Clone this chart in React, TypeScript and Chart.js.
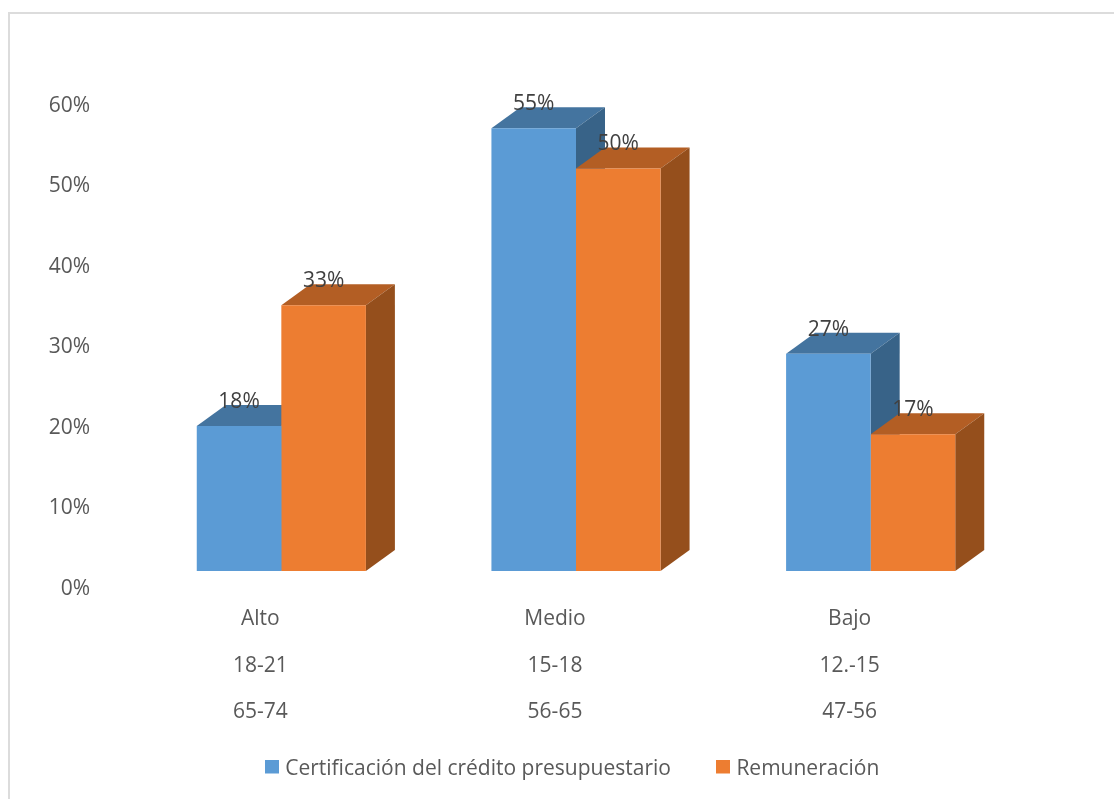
import React, { useEffect, useRef } from "react";
import { Chart, registerables } from "chart.js";

Chart.register(...registerables);

const categories = [
  ["Alto", "18-21", "65-74"],
  ["Medio", "15-18", "56-65"],
  ["Bajo", "12.-15", "47-56"],
];
const seriesNames = ["Certificación del crédito presupuestario", "Remuneración"];
const certificacion = [18, 55, 27];
const remuneracion = [33, 50, 17];

const FONT = "'Open Sans', sans-serif";
const FACE = ["#5B9BD5", "#ED7D31"];
const TOP = ["#44749F", "#B35E24"];
const SIDE = ["#386388", "#954F1C"];
const DEPTH_X = 29;
const DEPTH_Y = -21;

// Square legend marker. The taller transparent canvas lifts the square to the label's optical
// middle, and the marker overhangs the narrow legend box so the label sits close to it.
function swatch(color: string) {
  const c = document.createElement("canvas");
  c.width = 14;
  c.height = 20;
  const g = c.getContext("2d")!;
  g.fillStyle = color;
  g.fillRect(0, 0, 14, 14);
  return c;
}

// Extrudes each bar: a top and a right face behind the flat front drawn by the controller.
const extrusion = {
  id: "extrusion",
  beforeDatasetsDraw(chart: any) {
    const { ctx } = chart;
    chart.data.datasets.forEach((_: any, i: number) => {
      chart.getDatasetMeta(i).data.forEach((bar: any) => {
        const l = bar.x - bar.width / 2;
        const r = bar.x + bar.width / 2;
        ctx.fillStyle = TOP[i];
        ctx.beginPath();
        ctx.moveTo(l, bar.y);
        ctx.lineTo(l + DEPTH_X, bar.y + DEPTH_Y);
        ctx.lineTo(r + DEPTH_X, bar.y + DEPTH_Y);
        ctx.lineTo(r, bar.y);
        ctx.closePath();
        ctx.fill();
        ctx.fillStyle = SIDE[i];
        ctx.beginPath();
        ctx.moveTo(r, bar.y);
        ctx.lineTo(r + DEPTH_X, bar.y + DEPTH_Y);
        ctx.lineTo(r + DEPTH_X, bar.base + DEPTH_Y);
        ctx.lineTo(r, bar.base);
        ctx.closePath();
        ctx.fill();
      });
    });
  },
};

// Value labels straddling the back edge of each bar's top face.
const valueLabels = {
  id: "valueLabels",
  afterDatasetsDraw(chart: any) {
    const { ctx } = chart;
    ctx.save();
    ctx.font = `21px ${FONT}`;
    ctx.fillStyle = "#404040";
    ctx.textAlign = "center";
    ctx.textBaseline = "middle";
    chart.data.datasets.forEach((ds: any, i: number) => {
      chart.getDatasetMeta(i).data.forEach((bar: any, j: number) => {
        ctx.fillText(`${ds.data[j]}%`, bar.x, bar.y - 24);
      });
    });
    ctx.restore();
  },
};

// Moves the legend sideways to its place, and lets the category axis keep its third label
// line, which runs past the box the layout gives the axis.
const legendPlacement = {
  id: "legendPlacement",
  afterLayout(chart: any) {
    const lg = chart.legend;
    lg.left += 65;
    lg.right += 65;
    chart.scales.x.bottom += 30;
  },
};

export default function App() {
  const ref = useRef<HTMLCanvasElement>(null);

  useEffect(() => {
    const chart = new Chart(ref.current!, {
      type: "bar",
      data: {
        labels: categories,
        datasets: [
          { label: seriesNames[0], data: certificacion, backgroundColor: FACE[0] },
          { label: seriesNames[1], data: remuneracion, backgroundColor: FACE[1] },
        ],
      },
      plugins: [extrusion, valueLabels, legendPlacement],
      options: {
        responsive: false,
        animation: false,
        layout: { padding: { left: 0, right: 96, top: 88, bottom: 9 } },
        datasets: { bar: { categoryPercentage: 0.574, barPercentage: 1 } },
        scales: {
          x: {
            grid: { display: false },
            border: { display: false },
            afterFit(s: any) {
              s.height = 139;
            },
            ticks: {
              autoSkip: false,
              maxRotation: 0,
              labelOffset: -21,
              padding: 17,
              color: "#595959",
              font: { family: FONT, size: 21, lineHeight: "46.5px" },
            },
          },
          y: {
            min: 0,
            max: 60,
            grid: { display: false },
            border: { display: false },
            afterFit(s: any) {
              s.width = 134;
            },
            ticks: {
              stepSize: 10,
              labelOffset: 18,
              padding: 36,
              color: "#595959",
              font: { family: FONT, size: 21 },
              callback: (v: any) => `${v}%`,
            },
          },
        },
        plugins: {
          tooltip: { enabled: false },
          legend: {
            position: "bottom",
            labels: {
              color: "#595959",
              font: { family: FONT, size: 21 },
              usePointStyle: true,
              boxWidth: 6,
              padding: 49,
              generateLabels: (c: any) =>
                c.data.datasets.map((d: any, i: number) => ({
                  text: d.label,
                  fontColor: "#595959",
                  pointStyle: swatch(FACE[i]),
                  datasetIndex: i,
                })),
            },
          },
        },
      },
    } as any);
    return () => chart.destroy();
  }, []);

  return (
    <div style={{ position: "fixed", left: 0, top: 0, width: 1114, height: 799, overflow: "hidden", background: "#fff" }}>
      <div
        style={{
          position: "absolute",
          left: 8,
          top: 12,
          width: 1200,
          height: 900,
          borderLeft: "2px solid #dcdcdc",
          borderTop: "2px solid #dcdcdc",
        }}
      />
      <canvas ref={ref} width={1114} height={799} style={{ position: "absolute", left: 0, top: 0 }} />
    </div>
  );
}
